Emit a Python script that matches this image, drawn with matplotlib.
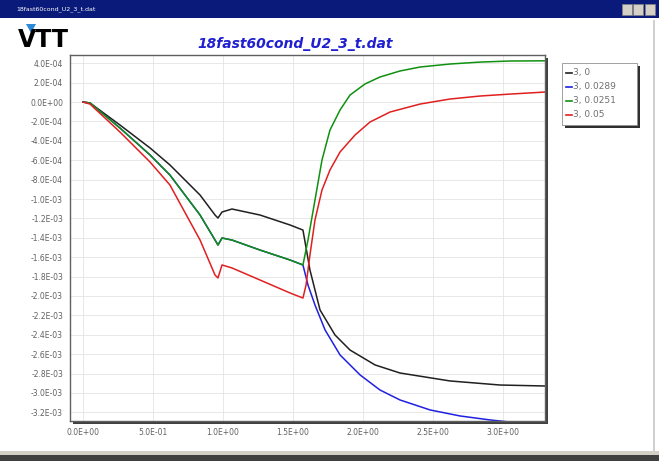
import matplotlib
matplotlib.use("Agg")
import matplotlib.pyplot as plt
from matplotlib.patches import Rectangle, Polygon

# curve values (time, value)
t_pre = [0.0, 0.05, 0.264, 0.479, 0.621, 0.836, 0.943, 0.964, 0.993, 1.064, 1.264, 1.479, 1.571]

black_pre = [0, -1.0e-5, -2.37e-4, -4.74e-4, -6.49e-4, -9.59e-4, -1.165e-3, -1.196e-3,
             -1.134e-3, -1.103e-3, -1.165e-3, -1.268e-3, -1.32e-3]
green_pre = [0, -1.0e-5, -2.68e-4, -5.46e-4, -7.53e-4, -1.165e-3, -1.423e-3, -1.474e-3,
             -1.402e-3, -1.423e-3, -1.526e-3, -1.629e-3, -1.68e-3]
red_pre = [0, -2.1e-5, -3.09e-4, -6.19e-4, -8.56e-4, -1.423e-3, -1.784e-3, -1.814e-3,
           -1.68e-3, -1.711e-3, -1.835e-3, -1.969e-3, -2.021e-3]

black_t = [1.621, 1.693, 1.8, 1.907, 2.086, 2.264, 2.621, 2.979, 3.3]
black_post = [-1.732e-3, -2.144e-3, -2.402e-3, -2.557e-3, -2.711e-3, -2.794e-3, -2.876e-3,
              -2.918e-3, -2.928e-3]

blue_t = [1.607, 1.657, 1.729, 1.836, 1.979, 2.121, 2.264, 2.479, 2.693, 2.907, 3.05]
blue_post = [-1.887e-3, -2.093e-3, -2.35e-3, -2.608e-3, -2.814e-3, -2.969e-3, -3.072e-3,
             -3.175e-3, -3.237e-3, -3.278e-3, -3.30e-3]

green_t = [1.607, 1.657, 1.707, 1.764, 1.836, 1.907, 2.014, 2.121, 2.264, 2.407, 2.621,
           2.836, 3.05, 3.3]
green_post = [-1.423e-3, -1.01e-3, -5.98e-4, -2.89e-4, -8.2e-5, 7.2e-5, 1.86e-4, 2.58e-4,
              3.2e-4, 3.61e-4, 3.92e-4, 4.12e-4, 4.23e-4, 4.25e-4]

red_t = [1.593, 1.621, 1.657, 1.707, 1.764, 1.836, 1.943, 2.05, 2.193, 2.407, 2.621, 2.836,
         3.05, 3.3]
red_post = [-1.887e-3, -1.577e-3, -1.216e-3, -9.07e-4, -7.01e-4, -5.15e-4, -3.4e-4, -2.06e-4,
            -1.03e-4, -2.1e-5, 3.1e-5, 6.2e-5, 8.2e-5, 1.03e-4]

labels = ["3, 0", "3, 0.0289", "3, 0.0251", "3, 0.05"]
colors = ["#202020", "#2020e0", "#109010", "#e02020"]

x_ticks = [0, 0.5, 1.0, 1.5, 2.0, 2.5, 3.0]
y_ticks = [4e-4 - 2e-4 * i for i in range(19)]

fig = plt.figure(figsize=(6.59, 4.61), dpi=100)
fig.patch.set_facecolor("white")

W, H = 659.0, 461.0
def fx(px):
    return px / W
def fy(py):
    return 1 - py / H

# window chrome
fig.patches.append(Rectangle((0, fy(18)), 1, 18 / H, transform=fig.transFigure,
                             facecolor="#0a1a7a", edgecolor="none"))
fig.text(fx(16), fy(9), "18fast60cond_U2_3_t.dat", color="white", fontsize=4.5,
         va="center", ha="left")
for bx in [622, 633, 645]:
    fig.patches.append(Rectangle((fx(bx), fy(15)), 10 / W, 11 / H, transform=fig.transFigure,
                                 facecolor="#d4d0c8", edgecolor="#808080", lw=0.5))
fig.patches.append(Rectangle((0, 0), 1, 6 / H, transform=fig.transFigure,
                             facecolor="#404040", edgecolor="none"))
fig.patches.append(Rectangle((0, 6 / H), 1, 4 / H, transform=fig.transFigure,
                             facecolor="#d4d0c8", edgecolor="none"))
fig.patches.append(Rectangle((fx(653), 10 / H), 2 / W, fy(20) - 10 / H, transform=fig.transFigure,
                             facecolor="#d0d0d0", edgecolor="none"))

# VTT logo and title
fig.text(fx(18), fy(40), "VTT", fontsize=17, fontweight="bold", color="black",
         va="center", ha="left", family="DejaVu Sans")
fig.patches.append(Polygon([(fx(26), fy(24)), (fx(36), fy(24)), (fx(31), fy(33))],
                           closed=True, transform=fig.transFigure, facecolor="#2a8ad8",
                           edgecolor="none"))
fig.text(fx(295), fy(44), "18fast60cond_U2_3_t.dat", fontsize=10, fontweight="bold",
         fontstyle="italic", color="#2020d0", ha="center", va="center")

# plot area with shadow
left, right, top, bottom = 70, 545, 55, 421
fig.patches.append(Rectangle((fx(left + 3), fy(bottom + 3)), (right - left) / W,
                             (bottom - top) / H, transform=fig.transFigure,
                             facecolor="#404040", edgecolor="none", zorder=0))
ax = fig.add_axes([fx(left), fy(bottom), (right - left) / W, (bottom - top) / H])
ax.set_zorder(5)
ax.set_facecolor("white")

ax.plot(t_pre + black_t, black_pre + black_post, color=colors[0], lw=1.1, label=labels[0])
ax.plot(t_pre + blue_t, green_pre + blue_post, color=colors[1], lw=1.1, label=labels[1])
ax.plot(t_pre + green_t, green_pre + green_post, color=colors[2], lw=1.1, label=labels[2])
ax.plot(t_pre + red_t, red_pre + red_post, color=colors[3], lw=1.1, label=labels[3])

ax.set_xlim(-0.093, 3.3)
ax.set_ylim(-3.289e-3, 4.85e-4)
ax.set_xticks(x_ticks)
ax.set_yticks(y_ticks)
ax.set_xticklabels(["%.1E" % v for v in x_ticks])
ax.set_yticklabels(["%.1E" % v for v in y_ticks])
ax.tick_params(labelsize=5.5, colors="#606060", length=0, pad=5)
ax.grid(True, color="#e4e4e4", lw=0.6)
for s in ax.spines.values():
    s.set_color("#606060")
    s.set_linewidth(1.0)

# legend box
lx0, ly0, lx1, ly1 = 562, 63, 637, 125
fig.patches.append(Rectangle((fx(lx0 + 3), fy(ly1 + 3)), (lx1 - lx0) / W, (ly1 - ly0) / H,
                             transform=fig.transFigure, facecolor="#303030", edgecolor="none"))
fig.patches.append(Rectangle((fx(lx0), fy(ly1)), (lx1 - lx0) / W, (ly1 - ly0) / H,
                             transform=fig.transFigure, facecolor="white",
                             edgecolor="#909090", lw=0.6))
for i, (lab, c) in enumerate(zip(labels, colors)):
    yy = 73 + i * 14
    fig.lines.append(plt.Line2D([fx(566), fx(572)], [fy(yy), fy(yy)], color=c, lw=1.2,
                                transform=fig.transFigure))
    fig.text(fx(573), fy(yy), lab, fontsize=6.5, color="#707070", va="center", ha="left")

fig.savefig("out.png", dpi=100)
